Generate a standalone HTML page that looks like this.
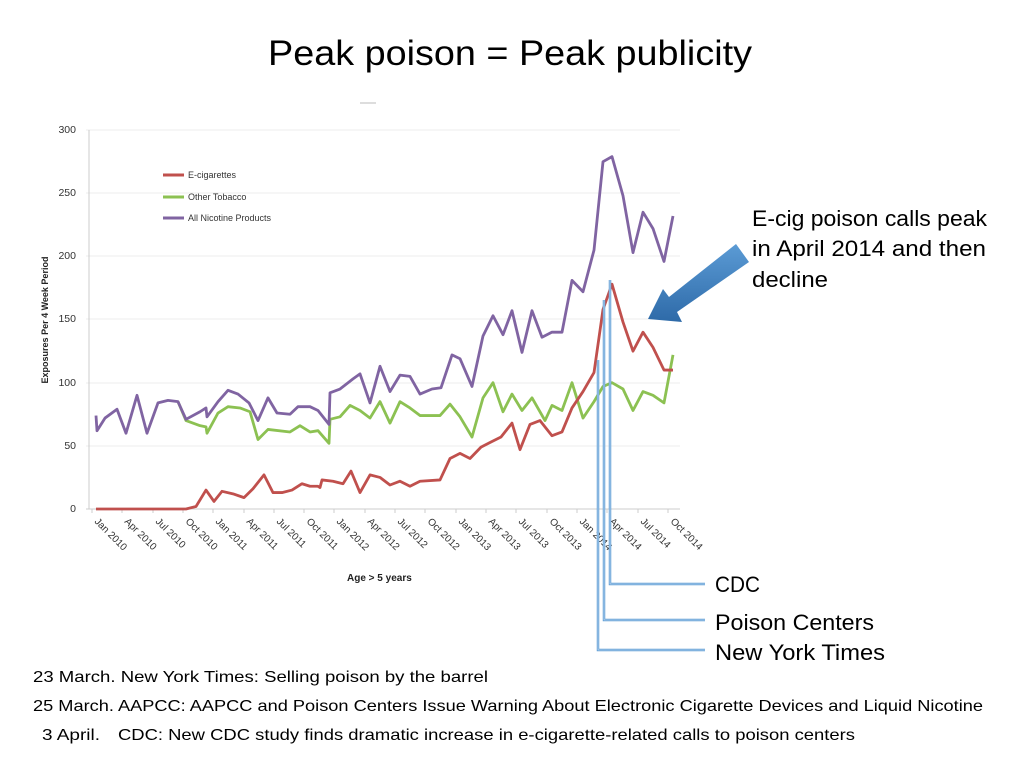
<!DOCTYPE html>
<html><head><meta charset="utf-8"><style>
html,body{margin:0;padding:0;background:#fff;width:1024px;height:760px;overflow:hidden}
text{font-family:"Liberation Sans",sans-serif}
</style></head><body>
<svg width="1024" height="760" viewBox="0 0 1024 760" xmlns="http://www.w3.org/2000/svg">
<text x="510" y="65" font-size="35" text-anchor="middle" textLength="484" lengthAdjust="spacingAndGlyphs" fill="#000">Peak poison = Peak publicity</text>
<line x1="360" y1="103" x2="376" y2="103" stroke="#bbb" stroke-width="1"/>
<g stroke="#eee" stroke-width="1">
<line x1="86" y1="130" x2="680" y2="130"/><line x1="86" y1="193" x2="680" y2="193"/><line x1="86" y1="256" x2="680" y2="256"/><line x1="86" y1="319" x2="680" y2="319"/><line x1="86" y1="383" x2="680" y2="383"/><line x1="86" y1="446" x2="680" y2="446"/>
</g>
<line x1="89" y1="130" x2="89" y2="509" stroke="#ccc"/>
<line x1="86" y1="509" x2="680" y2="509" stroke="#ccc"/>
<g font-size="10.5" fill="#333" text-anchor="end">
<text x="76" y="133">300</text><text x="76" y="196">250</text><text x="76" y="259">200</text><text x="76" y="322">150</text><text x="76" y="386">100</text><text x="76" y="449">50</text><text x="76" y="512">0</text>
</g>
<text transform="translate(48,320) rotate(-90)" font-size="9" font-weight="bold" text-anchor="middle" fill="#222">Exposures Per 4 Week Period</text>
<g stroke="#ccc">
<line x1="92" y1="509" x2="92" y2="513"/><line x1="122" y1="509" x2="122" y2="513"/><line x1="153" y1="509" x2="153" y2="513"/><line x1="183" y1="509" x2="183" y2="513"/><line x1="213" y1="509" x2="213" y2="513"/><line x1="244" y1="509" x2="244" y2="513"/><line x1="274" y1="509" x2="274" y2="513"/><line x1="304" y1="509" x2="304" y2="513"/><line x1="334" y1="509" x2="334" y2="513"/><line x1="365" y1="509" x2="365" y2="513"/><line x1="395" y1="509" x2="395" y2="513"/><line x1="425" y1="509" x2="425" y2="513"/><line x1="456" y1="509" x2="456" y2="513"/><line x1="486" y1="509" x2="486" y2="513"/><line x1="516" y1="509" x2="516" y2="513"/><line x1="547" y1="509" x2="547" y2="513"/><line x1="577" y1="509" x2="577" y2="513"/><line x1="607" y1="509" x2="607" y2="513"/><line x1="638" y1="509" x2="638" y2="513"/><line x1="668" y1="509" x2="668" y2="513"/>
</g>
<g font-size="10" fill="#333">
<text transform="translate(94,522) rotate(45)">Jan 2010</text>
<text transform="translate(124,522) rotate(45)">Apr 2010</text>
<text transform="translate(155,522) rotate(45)">Jul 2010</text>
<text transform="translate(185,522) rotate(45)">Oct 2010</text>
<text transform="translate(215,522) rotate(45)">Jan 2011</text>
<text transform="translate(246,522) rotate(45)">Apr 2011</text>
<text transform="translate(276,522) rotate(45)">Jul 2011</text>
<text transform="translate(306,522) rotate(45)">Oct 2011</text>
<text transform="translate(336,522) rotate(45)">Jan 2012</text>
<text transform="translate(367,522) rotate(45)">Apr 2012</text>
<text transform="translate(397,522) rotate(45)">Jul 2012</text>
<text transform="translate(427,522) rotate(45)">Oct 2012</text>
<text transform="translate(458,522) rotate(45)">Jan 2013</text>
<text transform="translate(488,522) rotate(45)">Apr 2013</text>
<text transform="translate(518,522) rotate(45)">Jul 2013</text>
<text transform="translate(549,522) rotate(45)">Oct 2013</text>
<text transform="translate(579,522) rotate(45)">Jan 2014</text>
<text transform="translate(609,522) rotate(45)">Apr 2014</text>
<text transform="translate(640,522) rotate(45)">Jul 2014</text>
<text transform="translate(670,522) rotate(45)">Oct 2014</text>
</g>
<text x="347" y="581" font-size="10" font-weight="bold" fill="#222">Age &gt; 5 years</text>
<g stroke-width="3">
<line x1="163" y1="175" x2="184" y2="175" stroke="#c0504d"/>
<line x1="163" y1="197" x2="184" y2="197" stroke="#8cc152"/>
<line x1="163" y1="218" x2="184" y2="218" stroke="#8064a2"/>
</g>
<g font-size="9" fill="#333">
<text x="188" y="178">E-cigarettes</text><text x="188" y="200">Other Tobacco</text><text x="188" y="221">All Nicotine Products</text>
</g>
<g transform="translate(0,509) scale(1,-1.263)" fill="none" stroke-width="2.8" stroke-linejoin="round">
<polyline vector-effect="non-scaling-stroke" stroke="#8cc152" points="178,85 186,70 200,66 206,65 207,60 218,76 228,81 240,80 250,77 258,55 268,63 290,61 300,66 310,61 318,62 329,52 330,71 340,73 350,82 360,78 370,72 380,85 390,68 400,85 410,80 420,74 440,74 450,83 460,73 472,57 483,88 493,100 503,77 512,91 522,78 532,88 545,70 552,82 562,78 572,100 583,72 594,85 603,97 612,100 623,95 633,78 643,93 653,90 664,84 673,122"/>
<polyline vector-effect="non-scaling-stroke" stroke="#8064a2" points="96,74 97,62 105,72 117,79 126,60 137,90 147,60 158,84 168,86 178,85 186,71 200,77 206,80 207,73 218,85 228,94 238,91 249,84 258,70 268,88 277,76 290,75 298,81 310,81 318,78 329,67 330,92 340,95 353,103 360,107 370,84 380,113 390,93 400,106 410,105 420,91 432,95 441,96 452,122 460,119 472,97 483,137 493,153 503,138 512,157 522,124 532,157 542,136 552,140 562,140 572,181 583,172 594,205 603,275 612,279 623,248 633,203 643,235 653,222 664,196 673,232"/>
<polyline vector-effect="non-scaling-stroke" stroke="#c0504d" points="96,0 186,0 196,2 206,15 214,6 222,14 233,12 244,9 253,16 264,27 273,13 282,13 292,15 302,20 310,18 318,18 320,17 322,23 333,22 343,20 351,30 360,13 370,27 380,25 390,19 400,22 410,18 420,22 440,23 450,40 460,44 470,40 481,49 491,53 501,57 512,68 520,47 530,67 540,70 552,58 562,61 572,80 583,93 594,108 603,158 612,178 623,148 633,125 643,140 653,128 664,110 673,110"/>
</g>
<g fill="none" stroke="#5b9bd5" stroke-width="2.5">
<polyline points="598,360 598,650 705,650"/>
<polyline points="604,300 604,620 705,620"/>
<polyline points="610,280 610,584 705,584"/>
</g>
<g fill="none" stroke="#c5dcf0" stroke-width="0.8">
<polyline points="598,360 598,650 705,650"/>
<polyline points="604,300 604,620 705,620"/>
<polyline points="610,280 610,584 705,584"/>
</g>
<defs><linearGradient id="ag" x1="0" y1="0" x2="0" y2="1"><stop offset="0" stop-color="#5b9bd5"/><stop offset="1" stop-color="#2e6aa8"/></linearGradient></defs>
<polygon points="736,244 749,262 677,312 682,322 648,319 663,289 669,297" fill="url(#ag)"/>
<g font-size="22" fill="#000">
<text x="752" y="226" textLength="235" lengthAdjust="spacingAndGlyphs">E-cig poison calls peak</text>
<text x="752" y="256" textLength="234" lengthAdjust="spacingAndGlyphs">in April 2014 and then</text>
<text x="752" y="287" textLength="76" lengthAdjust="spacingAndGlyphs">decline</text>
<text x="715" y="592" textLength="45" lengthAdjust="spacingAndGlyphs">CDC</text>
<text x="715" y="630" textLength="159" lengthAdjust="spacingAndGlyphs">Poison Centers</text>
<text x="715" y="660" textLength="170" lengthAdjust="spacingAndGlyphs">New York Times</text>
</g>
<g font-size="16" fill="#000">
<text x="33" y="682" textLength="455" lengthAdjust="spacingAndGlyphs">23 March. New York Times: Selling poison by the barrel</text>
<text x="33" y="711" textLength="950" lengthAdjust="spacingAndGlyphs">25 March. AAPCC: AAPCC and Poison Centers Issue Warning About Electronic Cigarette Devices and Liquid Nicotine</text>
<text x="42" y="740" textLength="58" lengthAdjust="spacingAndGlyphs">3 April.</text>
<text x="118" y="740" textLength="737" lengthAdjust="spacingAndGlyphs">CDC: New CDC study finds dramatic increase in e-cigarette-related calls to poison centers</text>
</g>
</svg>
</body></html>
